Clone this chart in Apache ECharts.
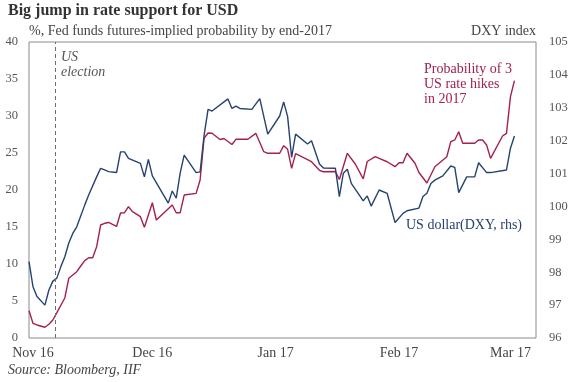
<!DOCTYPE html>
<html><head><meta charset="utf-8">
<script src="https://cdn.jsdelivr.net/npm/echarts@6/dist/echarts.min.js"></script>
<style>html,body{margin:0;padding:0;background:#fff}#c{width:571px;height:382px}</style>
</head><body><div id="c"></div>
<script>
// US dollar index (DXY), right axis
const dxyDates = ['2016-10-31','2016-11-01','2016-11-02','2016-11-04','2016-11-05','2016-11-06','2016-11-07','2016-11-08','2016-11-09','2016-11-10','2016-11-11','2016-11-12','2016-11-14','2016-11-15','2016-11-17','2016-11-18','2016-11-19','2016-11-20','2016-11-22','2016-11-23','2016-11-24','2016-11-25','2016-11-28','2016-11-29','2016-11-30','2016-12-01','2016-12-05','2016-12-06','2016-12-07','2016-12-08','2016-12-09','2016-12-12','2016-12-13','2016-12-14','2016-12-15','2016-12-16','2016-12-20','2016-12-21','2016-12-22','2016-12-23','2016-12-26','2016-12-28','2016-12-30','2017-01-02','2017-01-03','2017-01-04','2017-01-05','2017-01-06','2017-01-09','2017-01-10','2017-01-12','2017-01-13','2017-01-16','2017-01-17','2017-01-18','2017-01-19','2017-01-20','2017-01-23','2017-01-24','2017-01-25','2017-01-27','2017-01-29','2017-01-31','2017-02-02','2017-02-03','2017-02-06','2017-02-07','2017-02-08','2017-02-09','2017-02-10','2017-02-12','2017-02-14','2017-02-15','2017-02-16','2017-02-18','2017-02-20','2017-02-21','2017-02-23','2017-02-24','2017-02-28','2017-03-01','2017-03-02'];
const dxyValues = [98.32,97.56,97.26,97.00,97.46,97.73,97.82,98.17,98.47,98.89,99.18,99.38,100.04,100.35,100.90,101.16,101.11,101.06,101.03,101.66,101.66,101.46,101.31,100.90,101.43,100.93,100.10,100.47,100.25,101.02,101.56,101.03,101.05,102.16,102.95,102.90,103.27,102.98,103.05,102.98,102.95,103.28,102.20,102.75,103.18,102.73,101.49,102.20,101.90,102.00,101.29,101.17,101.16,100.30,101.01,101.13,100.70,100.17,100.32,100.01,100.50,100.40,99.51,99.79,99.87,99.95,100.30,100.40,100.70,100.80,100.93,101.23,101.19,100.42,100.90,100.90,101.33,101.03,101.03,101.11,101.77,102.14];

// Probability of 3 US rate hikes in 2017 (%), left axis
const probDates = ['2016-10-31','2016-11-01','2016-11-02','2016-11-04','2016-11-05','2016-11-06','2016-11-07','2016-11-09','2016-11-10','2016-11-12','2016-11-13','2016-11-14','2016-11-15','2016-11-16','2016-11-17','2016-11-18','2016-11-19','2016-11-20','2016-11-22','2016-11-23','2016-11-24','2016-11-25','2016-11-26','2016-11-28','2016-11-29','2016-12-01','2016-12-02','2016-12-06','2016-12-07','2016-12-08','2016-12-09','2016-12-12','2016-12-13','2016-12-14','2016-12-15','2016-12-16','2016-12-18','2016-12-19','2016-12-21','2016-12-22','2016-12-25','2016-12-27','2016-12-29','2016-12-30','2017-01-02','2017-01-03','2017-01-04','2017-01-05','2017-01-06','2017-01-10','2017-01-12','2017-01-13','2017-01-16','2017-01-17','2017-01-19','2017-01-21','2017-01-23','2017-01-24','2017-01-26','2017-01-27','2017-01-29','2017-01-31','2017-02-01','2017-02-02','2017-02-03','2017-02-05','2017-02-06','2017-02-08','2017-02-10','2017-02-13','2017-02-14','2017-02-15','2017-02-16','2017-02-17','2017-02-20','2017-02-21','2017-02-22','2017-02-23','2017-02-24','2017-02-27','2017-02-28','2017-03-01','2017-03-02'];
const probValues = [3.69,1.99,1.76,1.45,1.85,2.43,3.42,5.41,8.07,8.96,9.73,10.45,10.85,10.85,12.34,15.27,15.50,15.61,15.07,16.89,16.93,17.74,17.07,16.39,14.96,18.28,15.95,17.97,16.93,16.93,19.32,19.55,21.35,26.99,27.70,27.66,26.82,26.96,26.15,26.85,26.85,27.66,25.18,24.96,24.96,25.99,25.50,22.93,24.91,23.82,22.66,22.47,22.50,21.42,24.96,23.51,21.51,23.85,24.50,24.28,23.82,23.15,23.69,23.69,24.96,23.61,22.36,20.95,23.15,24.50,26.53,26.76,27.88,26.31,26.31,26.76,26.76,26.08,24.28,27.30,27.66,32.61,34.77];

const xTickDates = ['2016-11-01','2016-12-01','2017-01-01','2017-02-01','2017-03-01'];
const xTickLabels = ['Nov 16','Dec 16','Jan 17','Feb 17','Mar 17'];
const xMin = '2016-10-31';
const xMax = '2017-03-07 10:00';
const electionDate = '2016-11-06 12:00';
const leftMin = 0, leftMax = 40, leftStep = 5;
const rightMin = 96, rightMax = 105, rightStep = 1;

function ts(s) {
  const m = s.match(/(\d+)-(\d+)-(\d+)(?: (\d+):(\d+))?/);
  return Date.UTC(+m[1], +m[2] - 1, +m[3], m[4] ? +m[4] : 0, m[5] ? +m[5] : 0);
}
const tickTs = xTickDates.map(ts);
const dxyData = dxyDates.map((d, i) => [ts(d), dxyValues[i]]);
const probData = probDates.map((d, i) => [ts(d), probValues[i]]);

const serif = '"Liberation Serif", "DejaVu Serif", serif';
const chart = echarts.init(document.getElementById('c'), null, {renderer: 'canvas'});
chart.setOption({
  animation: false,
  backgroundColor: '#fff',
  grid: {left: 29, right: 35, top: 42, bottom: 44, show: true, borderColor: '#8a8a8a', borderWidth: 1, backgroundColor: 'transparent'},
  xAxis: {
    type: 'value', min: ts(xMin), max: ts(xMax),
    axisLine: {show: false}, axisTick: {show: false}, splitLine: {show: false},
    axisLabel: {
      customValues: tickTs,
      formatter: v => { const i = tickTs.indexOf(v); return i >= 0 ? xTickLabels[i] : ''; },
      fontFamily: serif, fontSize: 14, color: '#444', margin: 8
    }
  },
  yAxis: [
    {type: 'value', min: leftMin, max: leftMax, interval: leftStep, position: 'left',
     axisLine: {show: false}, axisTick: {show: false}, splitLine: {show: false},
     axisLabel: {fontFamily: serif, fontSize: 12.5, color: '#555', margin: 11, padding: [0, 0, 7, 0]}},
    {type: 'value', min: rightMin, max: rightMax, interval: rightStep, position: 'right',
     axisLine: {show: false}, axisTick: {show: false}, splitLine: {show: false},
     axisLabel: {fontFamily: serif, fontSize: 12.5, color: '#555', margin: 13, padding: [4, 0, 0, 0]}}
  ],
  series: [
    {name: 'US dollar (DXY, rhs)', type: 'line', yAxisIndex: 1, data: dxyData, showSymbol: false,
     lineStyle: {color: '#26426f', width: 1.4}, itemStyle: {color: '#26426f'}, z: 3},
    {name: 'Probability of 3 US rate hikes in 2017', type: 'line', yAxisIndex: 0, data: probData, showSymbol: false,
     lineStyle: {color: '#a3204f', width: 1.4}, itemStyle: {color: '#a3204f'}, z: 2,
     markLine: {silent: true, symbol: 'none', label: {show: false},
       lineStyle: {type: [4, 3], color: '#6f6f6f', width: 1},
       data: [{xAxis: ts(electionDate)}]}}
  ],
  graphic: [
    {type: 'text', left: 8, top: 3, style: {text: 'Big jump in rate support for USD', font: 'bold 16px ' + serif, fill: '#333'}},
    {type: 'text', left: 29, top: 24, style: {text: '%, Fed funds futures-implied probability by end-2017', font: '14px ' + serif, fill: '#444'}},
    {type: 'text', right: 35, top: 24, style: {text: 'DXY index', font: '14px ' + serif, fill: '#444'}},
    {type: 'text', left: 8, top: 363, style: {text: 'Source: Bloomberg, IIF', font: 'italic 14px ' + serif, fill: '#444'}},
    {type: 'text', left: 61, top: 50, style: {text: 'US\nelection', font: 'italic 14px ' + serif, fill: '#555', lineHeight: 15}},
    {type: 'text', left: 424, top: 62, style: {text: 'Probability of 3\nUS rate hikes\nin 2017', font: '14px ' + serif, fill: '#a3204f', lineHeight: 15}},
    {type: 'text', left: 406, top: 218, style: {text: 'US dollar(DXY, rhs)', font: '14px ' + serif, fill: '#26426f'}}
  ]
});
</script>
</body></html>
